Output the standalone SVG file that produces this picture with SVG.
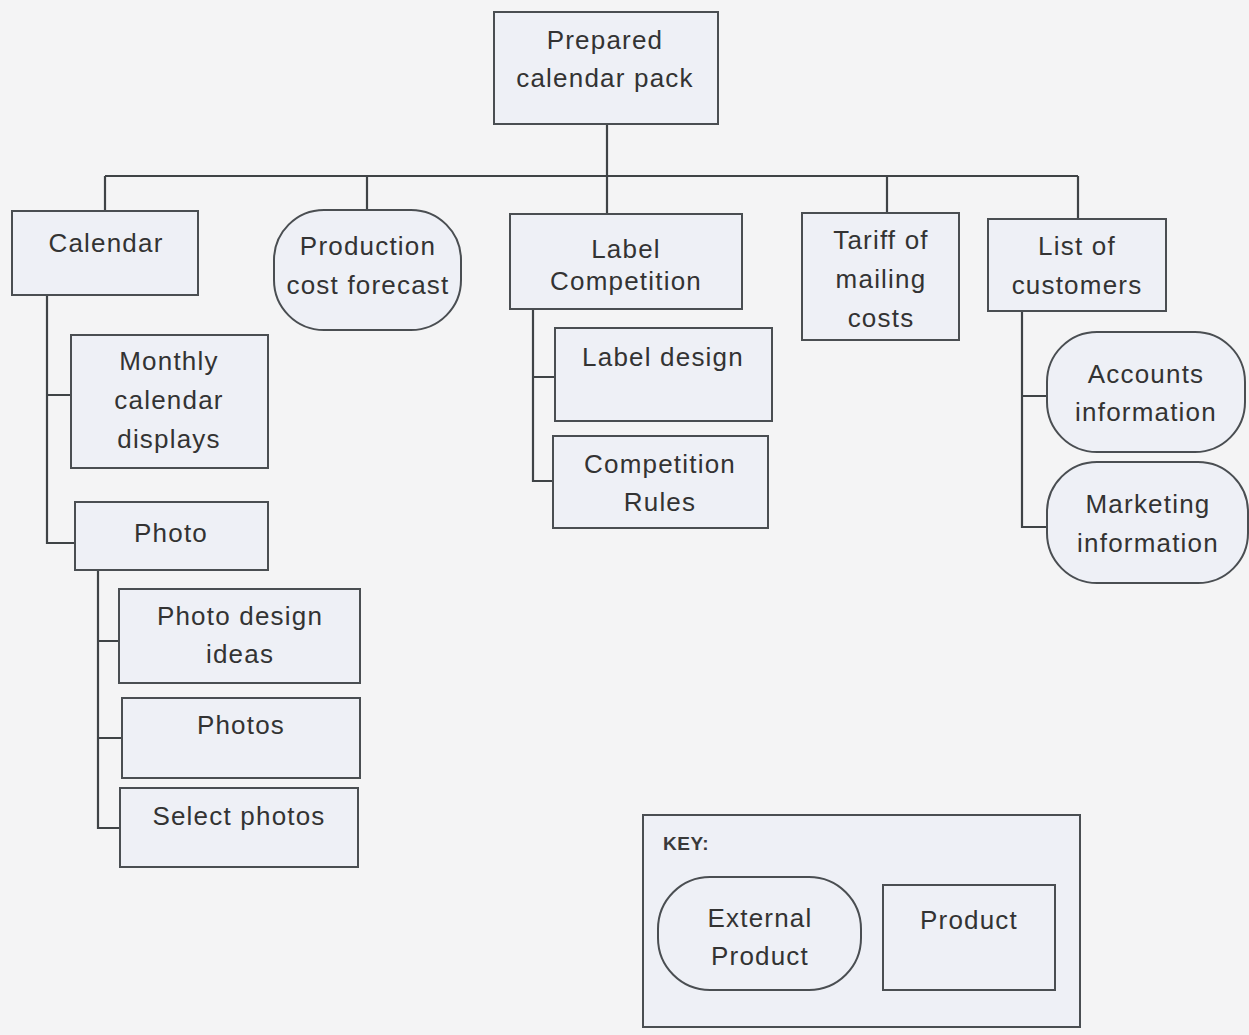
<svg xmlns="http://www.w3.org/2000/svg" width="1249" height="1035" viewBox="0 0 1249 1035">
<style>
.bg{fill:#f4f4f5}
.box{fill:#eef0f6;stroke:#4a4e52;stroke-width:2}
.ln{fill:none;stroke:#3f4346;stroke-width:2.2}
text{font-family:"Liberation Sans",Arial,sans-serif;font-size:26px;letter-spacing:1.2px;fill:#333;text-anchor:middle;dominant-baseline:central}
.key{font-size:19px;letter-spacing:0.5px;text-anchor:start;font-weight:bold;fill:#3a3a3a}
</style>
<rect class="bg" x="0" y="0" width="1249" height="1035"/>
<g id="connectors">
<path class="ln" d="M607 124V176M105 176H1078M105 176V211M367 176V210M607 176V214M887 176V213M1078 176V219"/>
<path class="ln" d="M47 295V543H75M47 395H71"/>
<path class="ln" d="M98 570V828H120M98 641H119M98 738H122"/>
<path class="ln" d="M533 309V481H553M533 377H555"/>
<path class="ln" d="M1022 311V527H1047M1022 396H1047"/>
</g>
<g id="root"><rect class="box" x="494" y="12" width="224" height="112"/><text x="605" y="40">Prepared</text><text x="605" y="78">calendar pack</text></g>
<g id="calendar"><rect class="box" x="12" y="211" width="186" height="84"/><text x="106" y="243">Calendar</text></g>
<g id="production"><rect class="box" x="274" y="210" width="187" height="120" rx="50"/><text x="368" y="246">Production</text><text x="368" y="285">cost forecast</text></g>
<g id="labelcomp"><rect class="box" x="510" y="214" width="232" height="95"/><text x="626" y="249">Label</text><text x="626" y="281">Competition</text></g>
<g id="tariff"><rect class="box" x="802" y="213" width="157" height="127"/><text x="881" y="240">Tariff of</text><text x="881" y="279">mailing</text><text x="881" y="318">costs</text></g>
<g id="customers"><rect class="box" x="988" y="219" width="178" height="92"/><text x="1077" y="246">List of</text><text x="1077" y="285">customers</text></g>
<g id="monthly"><rect class="box" x="71" y="335" width="197" height="133"/><text x="169" y="361">Monthly</text><text x="169" y="400">calendar</text><text x="169" y="439">displays</text></g>
<g id="photo"><rect class="box" x="75" y="502" width="193" height="68"/><text x="171" y="533">Photo</text></g>
<g id="photodesign"><rect class="box" x="119" y="589" width="241" height="94"/><text x="240" y="616">Photo design</text><text x="240" y="654">ideas</text></g>
<g id="photos"><rect class="box" x="122" y="698" width="238" height="80"/><text x="241" y="725">Photos</text></g>
<g id="selectphotos"><rect class="box" x="120" y="788" width="238" height="79"/><text x="239" y="816">Select photos</text></g>
<g id="labeldesign"><rect class="box" x="555" y="328" width="217" height="93"/><text x="663" y="357">Label design</text></g>
<g id="rules"><rect class="box" x="553" y="436" width="215" height="92"/><text x="660" y="464">Competition</text><text x="660" y="502">Rules</text></g>
<g id="accounts"><rect class="box" x="1047" y="332" width="198" height="120" rx="50"/><text x="1146" y="374">Accounts</text><text x="1146" y="412">information</text></g>
<g id="marketing"><rect class="box" x="1047" y="462" width="201" height="121" rx="50"/><text x="1148" y="504">Marketing</text><text x="1148" y="543">information</text></g>
<g id="keybox"><rect class="box" x="643" y="815" width="437" height="212"/><text class="key" x="663" y="843">KEY:</text>
<rect class="box" x="658" y="877" width="203" height="113" rx="52"/><text x="760" y="918">External</text><text x="760" y="956">Product</text>
<rect class="box" x="883" y="885" width="172" height="105"/><text x="969" y="920">Product</text></g>
</svg>
